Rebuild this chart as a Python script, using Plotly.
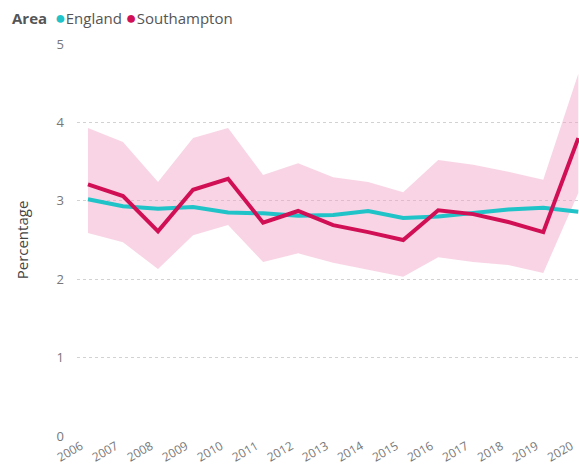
import plotly.graph_objects as go

years = [2006, 2007, 2008, 2009, 2010, 2011, 2012, 2013, 2014, 2015, 2016, 2017, 2018, 2019, 2020]
year_labels = [str(y) for y in years]
england = [3.02, 2.93, 2.90, 2.92, 2.85, 2.84, 2.81, 2.82, 2.87, 2.78, 2.80, 2.85, 2.89, 2.91, 2.86]
southampton = [3.21, 3.06, 2.61, 3.14, 3.28, 2.72, 2.87, 2.69, 2.60, 2.50, 2.88, 2.83, 2.73, 2.60, 3.80]
southampton_upper = [3.93, 3.75, 3.24, 3.80, 3.93, 3.33, 3.48, 3.30, 3.24, 3.11, 3.52, 3.46, 3.37, 3.27, 4.62]
southampton_lower = [2.59, 2.47, 2.13, 2.56, 2.69, 2.22, 2.33, 2.21, 2.12, 2.03, 2.28, 2.22, 2.18, 2.08, 3.10]
y_ticks = [0, 1, 2, 3, 4, 5]
series_names = ["England", "Southampton"]

TEAL = "#1fc3c8"
CRIMSON = "#d10f55"
BAND = "rgba(240,160,195,0.45)"
FONT = "Segoe UI, Open Sans, Noto Sans, sans-serif"

fig = go.Figure()
fig.add_trace(go.Scatter(x=years, y=southampton_lower, mode="lines", line=dict(width=0),
                         showlegend=False, hoverinfo="skip"))
fig.add_trace(go.Scatter(x=years, y=southampton_upper, mode="lines", line=dict(width=0),
                         fill="tonexty", fillcolor=BAND, showlegend=False, hoverinfo="skip"))
fig.add_trace(go.Scatter(x=years, y=england, mode="lines", name=series_names[0],
                         line=dict(color=TEAL, width=4)))
fig.add_trace(go.Scatter(x=years, y=southampton, mode="lines", name=series_names[1],
                         line=dict(color=CRIMSON, width=4)))

legend_text = ("<b>Area</b>  "
               f"<span style='color:{TEAL};font-size:18px'>●</span>{series_names[0]} "
               f"<span style='color:{CRIMSON};font-size:18px'>●</span>{series_names[1]}")
fig.add_annotation(text=legend_text, xref="paper", yref="paper", x=(10 - 77) / 502, y=1 + 27 / 392,
                   xanchor="left", yanchor="middle", showarrow=False,
                   font=dict(size=15, color="#555", family=FONT))

fig.update_layout(
    width=579, height=468,
    margin=dict(l=77, r=0, t=44, b=32, autoexpand=False),
    paper_bgcolor="white", plot_bgcolor="white",
    font=dict(family=FONT, color="#666", size=12),
    showlegend=False,
    xaxis=dict(
        range=[2005.687, 2020.02], tickmode="array", tickvals=years, ticktext=year_labels,
        tickangle=-30, showgrid=False, zeroline=False, showline=False,
        ticklabelshift=-7, ticklabelstandoff=0,
        tickfont=dict(size=12, color="#777"), automargin=False,
    ),
    yaxis=dict(
        range=[0, 5], tickmode="array", tickvals=y_ticks, ticktext=[str(v) for v in y_ticks],
        showgrid=True, gridcolor="#d2d2d2", griddash="dot", gridwidth=1,
        zeroline=False, showline=False, ticklabelstandoff=12,
        tickfont=dict(size=13, color="#777"), automargin=False,
        title=dict(text="Percentage", font=dict(size=15, color="#444"), standoff=24),
    ),
)

fig.write_html("out.html", post_script="document.body.style.margin='0';",
               config={"displayModeBar": False})
